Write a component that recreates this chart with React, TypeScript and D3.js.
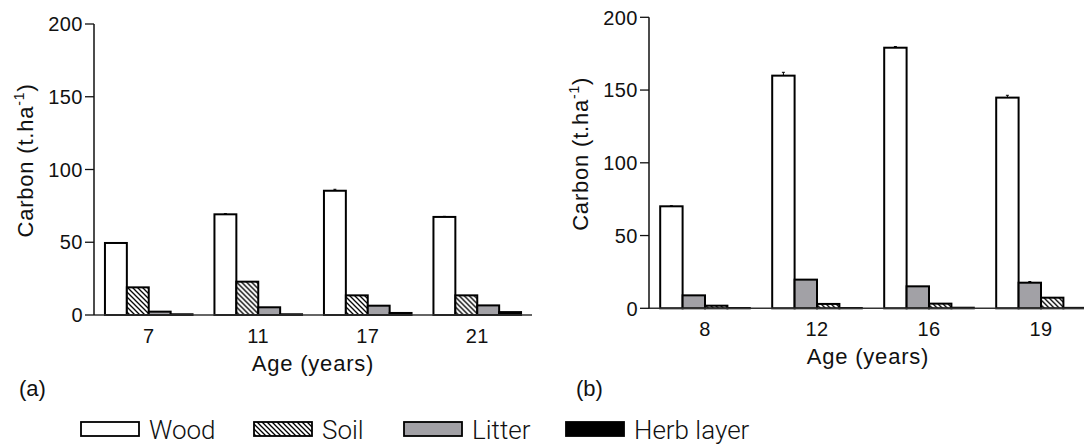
import React from "react";
import * as d3 from "d3";

// Stand ages (years) for the two chronosequences
const agesA = ["7", "11", "17", "21"];
const agesB = ["8", "12", "16", "19"];

// Carbon stocks, t.ha-1 — panel (a)
const woodA = [49.5, 69.2, 85.4, 67.4];
const soilA = [19.0, 22.9, 13.5, 13.5];
const litterA = [2.3, 5.3, 6.4, 6.6];
const herbA = [0.5, 0.5, 1.4, 2.0];
const woodErrA = [0.3, 0.5, 1.0, 0.4];

// Carbon stocks, t.ha-1 — panel (b)
const woodB = [70.1, 159.9, 179.1, 144.8];
const litterB = [8.9, 19.7, 15.1, 17.6];
const soilB = [1.8, 3.0, 3.2, 7.3];
const herbB = [0.2, 0.2, 0.4, 0.3];
const woodErrB = [0.4, 2.3, 0.8, 1.6];
const litterErrB = [0, 0, 0, 0.8];

const yTicks = [0, 50, 100, 150, 200];

const FONT = "'Liberation Sans', Arial, Helvetica, sans-serif";
const LITTER_GREY = "#a2a1a6";

type Series = { key: string; values: number[]; err?: number[] };

const fillFor = (key: string) =>
  key === "Wood" ? "#ffffff" : key === "Soil" ? "url(#hatch)" : key === "Litter" ? LITTER_GREY : "#000000";

function Panel(props: {
  axisX: number;
  axisRight: number;
  top: number;
  bottom: number;
  ages: string[];
  series: Series[];
  titleX: number;
  tag: string;
  tagX: number;
}) {
  const { axisX, axisRight, top, bottom, ages, series } = props;
  const y = d3.scaleLinear().domain([0, 200]).range([bottom, top]);
  const x0 = d3.scaleBand<string>().domain(ages).range([axisX, axisRight]).paddingInner(0.2).paddingOuter(0.1);
  const x1 = d3
    .scaleBand<string>()
    .domain(series.map((s) => s.key))
    .range([0, x0.bandwidth()]);

  return (
    <g>
      {/* bars */}
      {ages.map((age, i) => (
        <g key={age} transform={`translate(${x0(age)},0)`}>
          {series.map((s) => {
            const v = s.values[i];
            const bx = x1(s.key)!;
            const by = y(v);
            const e = s.err ? s.err[i] : 0;
            return (
              <g key={s.key}>
                <rect
                  x={bx}
                  y={by}
                  width={x1.bandwidth()}
                  height={bottom - by}
                  fill={fillFor(s.key)}
                  stroke="#000"
                  strokeWidth={2}
                />
                {e > 0 && (
                  <g stroke="#000" strokeWidth={1}>
                    <line x1={bx + x1.bandwidth() / 2} x2={bx + x1.bandwidth() / 2} y1={by} y2={y(v + e)} />
                    <line
                      x1={bx + x1.bandwidth() / 2 - 1.5}
                      x2={bx + x1.bandwidth() / 2 + 1.5}
                      y1={y(v + e)}
                      y2={y(v + e)}
                    />
                  </g>
                )}
              </g>
            );
          })}
        </g>
      ))}

      {/* x axis */}
      <line x1={axisX} x2={axisRight} y1={bottom} y2={bottom} stroke="#333" strokeWidth={1.5} />
      {ages.map((age) => (
        <text
          key={age}
          x={x0(age)! + x0.bandwidth() / 2}
          y={bottom + 28}
          textAnchor="middle"
          fontSize={20}
          letterSpacing={0.5}
          fontFamily={FONT}
          fill="#111"
        >
          {age}
        </text>
      ))}
      <text
        x={props.titleX}
        y={bottom + 55.5}
        textAnchor="middle"
        fontSize={22}
        letterSpacing={0.8}
        fontFamily={FONT}
        fill="#111"
      >
        Age (years)
      </text>

      {/* y axis */}
      <line x1={axisX} x2={axisX} y1={top} y2={bottom} stroke="#111" strokeWidth={1.5} />
      {yTicks.map((t) => (
        <g key={t}>
          <line x1={axisX - 9} x2={axisX} y1={y(t)} y2={y(t)} stroke="#111" strokeWidth={1.3} />
          <text
            x={axisX - 11}
            y={y(t)}
            dy="0.36em"
            textAnchor="end"
            fontSize={20}
            letterSpacing={0.5}
            fontFamily={FONT}
            fill="#111"
          >
            {t}
          </text>
        </g>
      ))}
      <text
        transform={`translate(${axisX - 61},${(top + bottom) / 2 - 9}) rotate(-90)`}
        textAnchor="middle"
        fontSize={22}
        letterSpacing={0.8}
        fontFamily={FONT}
        fill="#111"
      >
        Carbon (t.ha
        <tspan fontSize={14} dy={-9}>
          -1
        </tspan>
        <tspan dy={9}>)</tspan>
      </text>

      <text x={props.tagX} y={396} fontSize={22} fontFamily={FONT} fill="#111">
        {props.tag}
      </text>
    </g>
  );
}

const legendItems = [
  { key: "Wood", x: 81, label: "Wood" },
  { key: "Soil", x: 254, label: "Soil" },
  { key: "Litter", x: 404, label: "Litter" },
  { key: "Herb", x: 566, label: "Herb layer" },
];

export default function App() {
  const seriesA: Series[] = [
    { key: "Wood", values: woodA, err: woodErrA },
    { key: "Soil", values: soilA },
    { key: "Litter", values: litterA },
    { key: "Herb", values: herbA },
  ];
  const seriesB: Series[] = [
    { key: "Wood", values: woodB, err: woodErrB },
    { key: "Litter", values: litterB, err: litterErrB },
    { key: "Soil", values: soilB },
    { key: "Herb", values: herbB },
  ];

  return (
    <svg
      width={1084}
      height={446}
      viewBox="0 0 1084 446"
      style={{ position: "absolute", left: 0, top: 0, background: "#fff" }}
    >
      <defs>
        <pattern id="hatch" patternUnits="userSpaceOnUse" width={5} height={5}>
          <rect width={5} height={5} fill="#fff" />
          <path d="M0,0 L5,5 M-1,4 L1,6 M4,-1 L6,1" stroke="#000" strokeWidth={1.3} />
        </pattern>
      </defs>

      <Panel
        axisX={94}
        axisRight={532}
        top={24}
        bottom={315}
        ages={agesA}
        series={seriesA}
        titleX={313}
        tag="(a)"
        tagX={19}
      />
      <Panel
        axisX={649}
        axisRight={1097}
        top={17.3}
        bottom={308.3}
        ages={agesB}
        series={seriesB}
        titleX={868}
        tag="(b)"
        tagX={576}
      />

      {/* legend */}
      {legendItems.map((it) => (
        <g key={it.key}>
          <rect
            x={it.x}
            y={422}
            width={58}
            height={14}
            fill={fillFor(it.key)}
            stroke="#000"
            strokeWidth={1.8}
          />
          <text x={it.x + 68} y={439} fontSize={26} fontFamily="Roboto, 'Liberation Sans', sans-serif" fontWeight={300} fill="#111">
            {it.label}
          </text>
        </g>
      ))}
    </svg>
  );
}
